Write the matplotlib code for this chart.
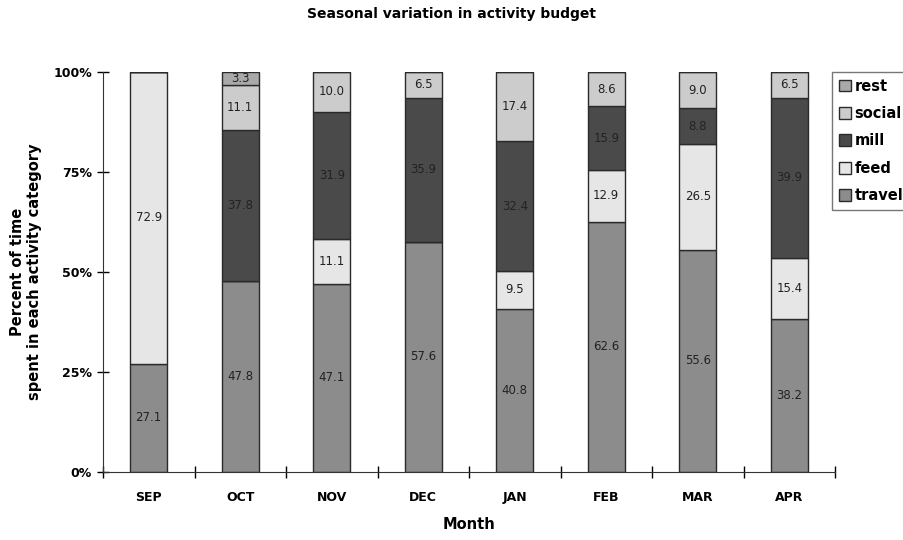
import matplotlib
matplotlib.use("Agg")
import matplotlib.pyplot as plt
import numpy as np

months = ["SEP", "OCT", "NOV", "DEC", "JAN", "FEB", "MAR", "APR"]
travel = [27.1, 47.8, 47.1, 57.6, 40.8, 62.6, 55.6, 38.2]
feed   = [72.9, 0.0, 11.1, 0.0, 9.5, 12.9, 26.5, 15.4]
mill   = [0.0, 37.8, 31.9, 35.9, 32.4, 15.9, 8.8, 39.9]
social = [0.0, 11.1, 10.0, 6.5, 17.4, 8.6, 9.0, 6.5]
rest   = [0.0, 3.3, 0.0, 0.0, 0.0, 0.0, 0.0, 0.0]

series = [("travel", travel, "#8c8c8c"),
          ("feed", feed, "#e6e6e6"),
          ("mill", mill, "#4a4a4a"),
          ("social", social, "#cccccc"),
          ("rest", rest, "#a9a9a9")]

plt.rcParams['font.family'] = ['DejaVu Sans']
fig = plt.figure(figsize=(9.04, 5.4), dpi=100)
ax = fig.add_axes([103/904, 1-472/540, (835-103)/904, 400/540])

x = np.arange(len(months))
bottom = np.zeros(len(months))
handles = {}
for name, vals, col in series:
    vals = np.array(vals)
    bars = ax.bar(x, vals, width=0.4, bottom=bottom, color=col,
                  edgecolor="#2a2a2a", linewidth=1.0, label=name)
    handles[name] = bars
    for xi, v, b in zip(x, vals, bottom):
        if v > 0:
            ax.text(xi, b + v/2, f"{v:.1f}", ha="center", va="center",
                    fontsize=8.5, color="#222222")
    bottom += vals

ax.set_xlim(-0.5, 7.5)
ax.set_ylim(0, 100)
ax.set_yticks([0, 25, 50, 75, 100])
ax.set_yticklabels(["0%", "25%", "50%", "75%", "100%"], fontweight="bold", fontsize=9)
ax.tick_params(axis="y", direction="inout", length=8, width=1, pad=4)
ax.set_xticks(x)
ax.set_xticklabels(months, fontweight="bold", fontsize=9)
ax.tick_params(axis="x", which="major", length=0, pad=14)
ax.set_xticks(np.arange(-0.5, 8.0, 1.0), minor=True)
ax.tick_params(axis="x", which="minor", direction="inout", length=8, width=1)
for s in ["top", "right"]:
    ax.spines[s].set_visible(False)
for s in ["left", "bottom"]:
    ax.spines[s].set_color("#333333")

ax.set_xlabel("Month", fontweight="bold", fontsize=10.5, labelpad=9)
ax.set_ylabel("Percent of time\nspent in each activity category",
              fontweight="bold", fontsize=10.5, labelpad=8)
fig.text(452/904, 1-14/540, "Seasonal variation in activity budget",
         ha="center", va="center", fontweight="bold", fontsize=10)

order = ["rest", "social", "mill", "feed", "travel"]
leg = fig.legend([handles[n] for n in order], order,
                 loc="upper left", bbox_to_anchor=(832/904, 1-72/540),
                 prop={"weight": "bold", "size": 10.5},
                 handlelength=0.85, handleheight=0.85, handletextpad=0.25,
                 labelspacing=0.85, borderpad=0.45, borderaxespad=0,
                 fancybox=False, frameon=True)
leg.get_frame().set_edgecolor("#555555")
leg.get_frame().set_linewidth(1.0)

fig.savefig("out.png", dpi=100)
